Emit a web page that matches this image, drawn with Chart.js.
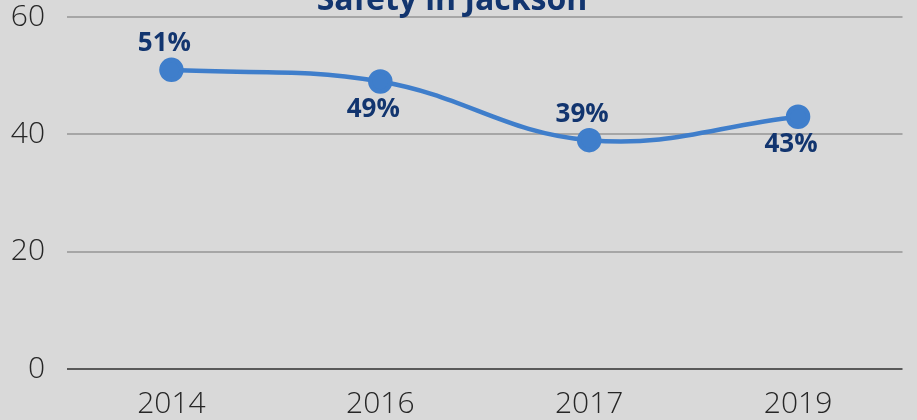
<!DOCTYPE html>
<html>
<head>
<meta charset="utf-8">
<script src="https://cdn.jsdelivr.net/npm/chart.js@4.4.0/dist/chart.umd.min.js"></script>
<style>
  html, body { margin: 0; padding: 0; background: #d9d9d9; overflow: hidden; }
  #wrap { position: absolute; left: 0; top: -40px; width: 917px; height: 460px; }
</style>
</head>
<body>
<div id="wrap"><canvas id="chart"></canvas></div>
<script>
const years = ["2014", "2016", "2017", "2019"];
const safety = [51, 49, 39, 43];
const labelSide = ["above", "below", "above", "below"];

const navy = "#12356f";
const lineBlue = "#3f7ecb";

// simple value labels, no datalabels plugin available
const pointLabels = {
    id: "pointLabels",
    afterDatasetsDraw(chart) {
        const ctx = chart.ctx;
        const meta = chart.getDatasetMeta(0);
        ctx.save();
        ctx.font = "bold 26px 'Open Sans'";
        ctx.fillStyle = navy;
        ctx.textAlign = "center";
        ctx.textBaseline = "middle";
        meta.data.forEach(function (pt, i) {
            const dy = labelSide[i] === "above" ? -26 : 28;
            ctx.fillText(safety[i] + "%", pt.x - 7, pt.y + dy);
        });
        ctx.restore();
    }
};

const bg = {
    id: "bg",
    beforeDraw(chart) {
        const ctx = chart.ctx;
        ctx.save();
        ctx.fillStyle = "#d9d9d9";
        ctx.fillRect(0, 0, chart.width, chart.height);
        ctx.restore();
    }
};

new Chart(document.getElementById("chart").getContext("2d"), {
    type: "line",
    data: {
        labels: years,
        datasets: [{
            data: safety,
            borderColor: lineBlue,
            backgroundColor: lineBlue,
            borderWidth: 4.5,
            pointRadius: 10,
            pointHoverRadius: 10,
            tension: 0.4,
            fill: false
        }]
    },
    options: {
        responsive: true,
        maintainAspectRatio: false,
        animation: false,
        layout: { padding: { left: 0, right: 13, top: 0, bottom: 0 } },
        plugins: {
            legend: { display: false },
            tooltip: { enabled: false },
            title: {
                display: true,
                text: "Safety in Jackson",
                color: navy,
                font: { family: "'Open Sans'", size: 32, weight: "bold", lineHeight: 1.0 },
                padding: { top: 25, bottom: 0 }
            }
        },
        scales: {
            x: {
                offset: true,
                grid: { display: false },
                border: { display: false },
                ticks: {
                    color: "#262626",
                    font: { family: "'Open Sans'", size: 30, weight: 300 },
                    padding: 9
                },
                afterFit(scale) { scale.height = 51; }
            },
            y: {
                min: 0,
                max: 60,
                ticks: {
                    stepSize: 20,
                    color: "#262626",
                    font: { family: "'Open Sans'", size: 30, weight: 300 },
                    padding: 22
                },
                border: { display: false },
                grid: {
                    drawTicks: false,
                    lineWidth: 2,
                    color: function (c) { return c.tick && c.tick.value === 0 ? "#595959" : "#a6a6a6"; }
                },
                afterFit(scale) { scale.width = 67; }
            }
        }
    },
    plugins: [bg, pointLabels]
});
</script>
</body>
</html>
